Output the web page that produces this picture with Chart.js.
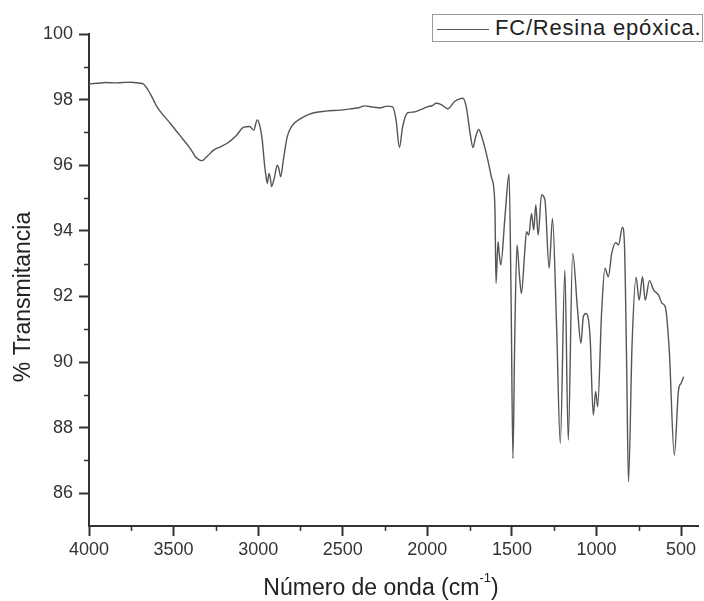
<!DOCTYPE html>
<html>
<head>
<meta charset="utf-8">
<script src="https://cdn.jsdelivr.net/npm/chart.js@4/dist/chart.umd.min.js"></script>
<style>
  html, body { margin: 0; padding: 0; background: #fff; }
  #wrap { position: relative; width: 704px; height: 601px; }
  #legend {
    position: absolute; left: 432px; top: 14px; width: 269px; height: 26px;
    border: 1px solid #9a9a9a; background: #fff; font: 22px "Liberation Sans", Arial, sans-serif; color: #222;
  }
  #legend .swatch { position: absolute; left: 4px; top: 14px; width: 52px; border-top: 1px solid #555; }
  #legend .txt { position: absolute; left: 62px; top: 0px; line-height: 26px; letter-spacing: 0.8px; }
</style>
</head>
<body>
<div id="wrap">
  <canvas id="c" width="704" height="601"></canvas>
  <div id="legend"><span class="swatch"></span><span class="txt">FC/Resina epóxica.</span></div>
</div>
<script>
// Espectro FTIR: FC/Resina epóxica
const wavenumbers = [
  4000, 3950, 3900, 3850, 3800, 3750, 3700, 3680, 3640, 3598, 3560, 3520, 3480, 3441, 3400, 3371, 3332, 3300,
  3263, 3220, 3183, 3130, 3085, 3050, 3026, 3006, 2990, 2976, 2962, 2956, 2946, 2936, 2928, 2921, 2905, 2887,
  2878, 2867, 2850, 2828, 2800, 2749, 2700, 2670, 2600, 2511, 2450, 2400, 2373, 2320, 2274, 2240, 2205, 2185,
  2165, 2146, 2116, 2080, 2037, 2000, 1970, 1948, 1918, 1879, 1839, 1810, 1790, 1770, 1745, 1730, 1715, 1697,
  1680, 1661, 1640, 1622, 1606, 1600, 1594, 1582, 1575, 1566, 1540, 1517, 1505, 1494, 1484, 1470, 1455, 1444,
  1425, 1414, 1400, 1384, 1371, 1359, 1345, 1325, 1305, 1280, 1260, 1236, 1214, 1187, 1167, 1141, 1112, 1092,
  1078, 1062, 1038, 1019, 1005, 993, 970, 950, 930, 910, 886, 870, 847, 835, 822, 811, 790, 766,
  748, 728, 712, 687, 663, 633, 613, 594, 570, 540, 515, 500, 485
];
const transmittance = [
  98.48, 98.50, 98.52, 98.51, 98.52, 98.53, 98.50, 98.48, 98.20, 97.78, 97.52, 97.28, 97.02, 96.77, 96.50, 96.26, 96.14, 96.28,
  96.46, 96.57, 96.67, 96.90, 97.16, 97.18, 97.07, 97.38, 97.20, 96.77, 96.00, 95.75, 95.45, 95.75, 95.60, 95.35, 95.60, 96.00,
  95.90, 95.65, 96.20, 96.87, 97.20, 97.42, 97.55, 97.60, 97.65, 97.68, 97.72, 97.76, 97.81, 97.77, 97.75, 97.80, 97.78, 97.38,
  96.54, 97.17, 97.60, 97.62, 97.70, 97.78, 97.82, 97.89, 97.85, 97.72, 97.94, 98.02, 98.04, 97.78, 96.90, 96.54, 96.85, 97.09,
  96.90, 96.56, 96.10, 95.65, 95.24, 94.60, 92.40, 93.67, 93.30, 92.96, 94.50, 95.73, 92.00, 87.06, 90.50, 93.57, 92.60, 92.09,
  93.30, 93.97, 93.87, 94.53, 94.02, 94.79, 93.87, 95.09, 94.94, 92.86, 94.38, 91.10, 87.52, 92.80, 87.62, 93.31, 91.59, 90.57,
  91.38, 91.48, 90.77, 88.38, 89.10, 88.64, 91.50, 92.86, 92.60, 93.31, 93.64, 93.57, 94.11, 93.62, 90.00, 86.35, 90.50, 92.58,
  91.89, 92.60, 91.89, 92.48, 92.20, 92.04, 91.79, 91.69, 90.37, 87.16, 89.15, 89.35, 89.55
];

const xTicks = [4000, 3500, 3000, 2500, 2000, 1500, 1000, 500];
const xMinorTicks = [3750, 3250, 2750, 2250, 1750, 1250, 750];
const yTicks = [86, 88, 90, 92, 94, 96, 98, 100];
const yMinorTicks = [87, 89, 91, 93, 95, 97, 99];

const xTitle = 'Número de onda (cm';
const xTitleSup = '-1';
const yTitle = '% Transmitancia';

const AXIS = '#333';
const FONT = '"Liberation Sans", Arial, sans-serif';

// ticks menores y títulos de los ejes (superíndice en cm-1)
const extras = {
  id: 'extras',
  afterDraw(chart) {
    const { ctx, chartArea: a, scales: { x, y } } = chart;
    ctx.save();
    ctx.strokeStyle = AXIS;
    ctx.lineWidth = 1.5;
    ctx.beginPath();
    xMinorTicks.forEach((v) => { const px = Math.round(x.getPixelForValue(v)) + 0.5; ctx.moveTo(px, a.bottom); ctx.lineTo(px, a.bottom + 5); });
    yMinorTicks.forEach((v) => { const py = Math.round(y.getPixelForValue(v)) + 0.5; ctx.moveTo(a.left, py); ctx.lineTo(a.left - 5, py); });
    ctx.stroke();

    ctx.fillStyle = '#222';
    ctx.textBaseline = 'alphabetic';
    ctx.textAlign = 'left';
    ctx.font = '23px ' + FONT;
    const w1 = ctx.measureText(xTitle).width;
    const w3 = ctx.measureText(')').width;
    ctx.font = '13px ' + FONT;
    const w2 = ctx.measureText(xTitleSup).width;
    let sx = 381 - (w1 + w2 + w3) / 2;
    ctx.font = '23px ' + FONT;
    ctx.fillText(xTitle, sx, 595);
    ctx.font = '13px ' + FONT;
    ctx.fillText(xTitleSup, sx + w1, 582);
    ctx.font = '23px ' + FONT;
    ctx.fillText(')', sx + w1 + w2, 595);

    ctx.translate(24, 297);
    ctx.rotate(-Math.PI / 2);
    ctx.textAlign = 'center';
    ctx.textBaseline = 'middle';
    ctx.fillText(yTitle, 0, 0);
    ctx.restore();
  }
};

new Chart(document.getElementById('c'), {
  type: 'line',
  data: {
    datasets: [{
      label: 'FC/Resina epóxica.',
      data: wavenumbers.map((w, i) => ({ x: w, y: transmittance[i] })),
      borderColor: '#555',
      borderWidth: 1.4,
      pointRadius: 0,
      cubicInterpolationMode: 'monotone',
      fill: false
    }]
  },
  options: {
    responsive: false,
    animation: false,
    layout: { padding: { top: 34, right: 6, left: 0, bottom: 0 } },
    plugins: { legend: { display: false }, tooltip: { enabled: false } },
    scales: {
      x: {
        type: 'linear', reverse: true, min: 400, max: 4000,
        afterBuildTicks: (s) => { s.ticks = xTicks.map((v) => ({ value: v })); },
        afterFit: (s) => { s.height = 75; },
        ticks: { color: '#333', font: { family: FONT, size: 18 }, padding: 3, maxRotation: 0, autoSkip: false, callback: (v) => String(v) },
        grid: { drawOnChartArea: false, drawTicks: true, tickLength: 10, tickWidth: 2, tickColor: AXIS },
        border: { display: true, color: AXIS, width: 2 }
      },
      y: {
        min: 85, max: 100,
        afterBuildTicks: (s) => { s.ticks = yTicks.map((v) => ({ value: v })); },
        afterFit: (s) => { s.width = 89; },
        ticks: { color: '#333', font: { family: FONT, size: 18 }, padding: 6, callback: (v) => String(v) },
        grid: { drawOnChartArea: false, drawTicks: true, tickLength: 10, tickWidth: 2, tickColor: AXIS },
        border: { display: true, color: AXIS, width: 2 }
      }
    }
  },
  plugins: [extras]
});
</script>
</body>
</html>
